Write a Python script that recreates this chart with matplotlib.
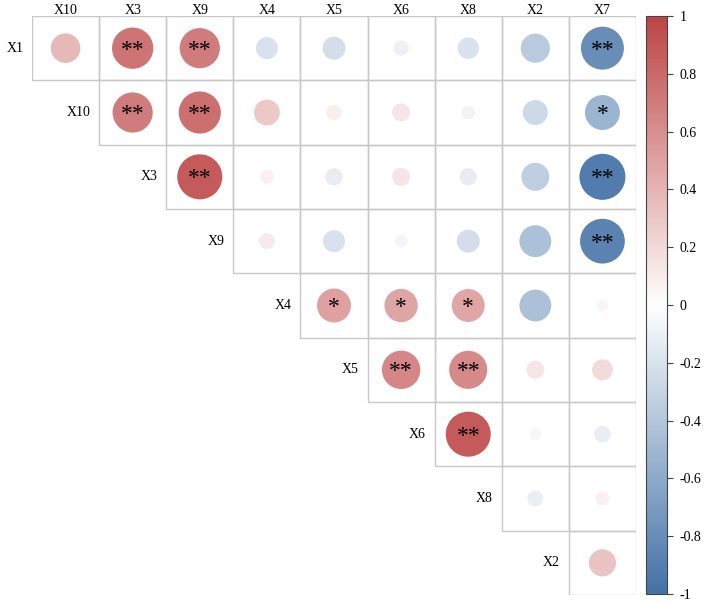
import matplotlib
matplotlib.use("Agg")
import matplotlib.pyplot as plt
import numpy as np
from matplotlib.colors import LinearSegmentedColormap, Normalize
from matplotlib.patches import Rectangle
from matplotlib.cm import ScalarMappable

plt.rcParams['font.family'] = ['Liberation Serif', 'DejaVu Serif']

cols = ["X10", "X3", "X9", "X4", "X5", "X6", "X8", "X2", "X7"]
rows = ["X1", "X10", "X3", "X9", "X4", "X5", "X6", "X8", "X2"]

# upper triangle: row i starts at column i
r_x1 = [0.38, 0.74, 0.70, -0.21, -0.23, -0.10, -0.20, -0.37, -0.80]
r_x10 = [0.70, 0.77, 0.29, 0.10, 0.14, -0.08, -0.27, -0.53]
r_x3 = [0.88, 0.085, -0.13, 0.14, -0.13, -0.34, -0.92]
r_x9 = [0.11, -0.21, -0.07, -0.23, -0.44, -0.87]
r_x4 = [0.50, 0.48, 0.47, -0.44, 0.06]
r_x5 = [0.64, 0.63, 0.14, 0.19]
r_x6 = [0.88, -0.06, -0.12]
r_x8 = [-0.11, 0.08]
r_x2 = [0.32]

s_x1 = ["", "**", "**", "", "", "", "", "", "**"]
s_x10 = ["**", "**", "", "", "", "", "", "*"]
s_x3 = ["**", "", "", "", "", "", "**"]
s_x9 = ["", "", "", "", "", "**"]
s_x4 = ["*", "*", "*", "", ""]
s_x5 = ["**", "**", "", ""]
s_x6 = ["**", "", ""]
s_x8 = ["", ""]
s_x2 = [""]

corr = [r_x1, r_x10, r_x3, r_x9, r_x4, r_x5, r_x6, r_x8, r_x2]
sig = [s_x1, s_x10, s_x3, s_x9, s_x4, s_x5, s_x6, s_x8, s_x2]

cmap = LinearSegmentedColormap.from_list("rb", ["#4371A6", "#FFFFFF", "#BD4444"])
norm = Normalize(-1, 1)

W, H = 706, 603
fig = plt.figure(figsize=(W / 100, H / 100), dpi=100)
ax = fig.add_axes([32 / W, 1 - 595 / H, 604 / W, 579 / H])
ax.set_xlim(0, 9)
ax.set_ylim(9, 0)
ax.axis("off")

star_fs = 17
n = len(cols)
for i in range(n):
    for k, (v, st) in enumerate(zip(corr[i], sig[i])):
        j = i + k
        ax.add_patch(Rectangle((j, i), 1, 1, fill=False, edgecolor="#c8c8c8", lw=1))
        d_pt = 48 * np.sqrt(abs(v)) * 0.72
        ax.scatter(j + 0.5, i + 0.5, s=d_pt ** 2, color=cmap(norm(v)), edgecolors="none", zorder=3)
        if st:
            # asterisk sits high in the em box, so push the baseline down
            ax.annotate(st, (j + 0.5, i + 0.5), xytext=(0, -5.5),
                        textcoords="offset points", ha="center", va="baseline",
                        fontsize=star_fs, zorder=4)
    ax.text(i - 0.13, i + 0.5, rows[i], ha="right", va="center", fontsize=10)

for j, c in enumerate(cols):
    ax.text(j + 0.5, -0.03, c, ha="center", va="baseline", fontsize=10)

cax = fig.add_axes([646 / W, 1 - 594 / H, 21 / W, 578 / H])
cb = fig.colorbar(ScalarMappable(norm=norm, cmap=cmap), cax=cax)
cb.set_ticks(np.arange(-1, 1.01, 0.2))
cb.set_ticklabels(["-1", "-0.8", "-0.6", "-0.4", "-0.2", "0", "0.2", "0.4", "0.6", "0.8", "1"])
cb.outline.set_edgecolor("#444444")
cb.outline.set_linewidth(0.8)
cax.tick_params(length=4, width=0.8, color="#444444", labelsize=10, pad=5)

fig.savefig("out.png", dpi=100)
